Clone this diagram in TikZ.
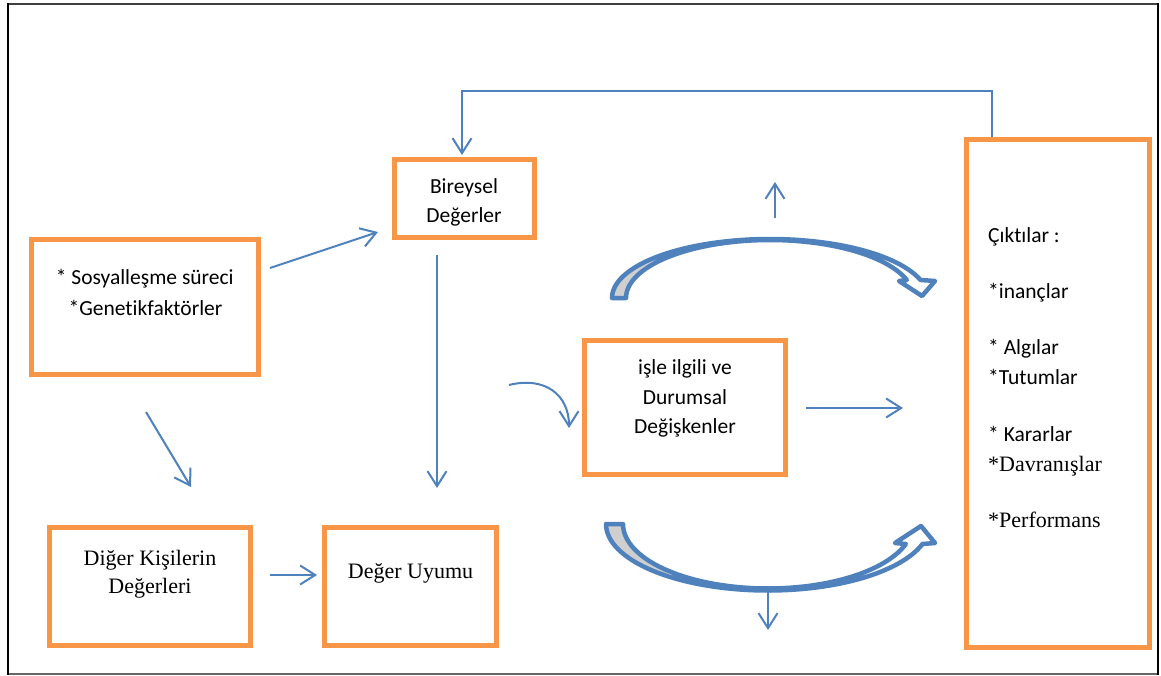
\documentclass[tikz,border=0pt]{standalone}
\usepackage{fontspec}
\setmainfont{Carlito}[Ligatures=NoCommon]
\newfontfamily\serifcam{Liberation Serif}
\usetikzlibrary{arrows.meta}
\definecolor{orng}{HTML}{F79646}
\definecolor{blu}{HTML}{4F81BD}
\definecolor{shd}{HTML}{CFCFCF}
\begin{document}
\begin{tikzpicture}[x=1pt,y=-1pt,
  box/.style={draw=orng, line width=5pt, rectangle, inner sep=0pt, fill=white},
  lab/.style={anchor=base, inner sep=0pt, font=\fontsize{21.5}{25}\selectfont},
  slab/.style={anchor=base, inner sep=0pt, font=\serifcam\fontsize{22}{25}\selectfont},
  conn/.style={draw=blu, line width=2pt, -{Straight Barb[length=15pt,width=19pt]}},
  blockarr/.style={draw=blu, line width=4.5pt, line join=round}]

\useasboundingbox (0,0) rectangle (1161,675);
\fill[white] (0,0) rectangle (1161,675);

% outer frame
\draw[black!75, line width=2pt] (7,3.7) -- (1159,3.7);
\draw[black!60, line width=2pt] (7,673.5) -- (1159,673.5);
\draw[black, line width=2.5pt] (8,3) -- (8,674.5);
\draw[black, line width=2.5pt] (1158,3) -- (1158,674.5);

% boxes
\node[box, minimum width=226.5pt, minimum height=135pt] (soc) at (144.75,307) {};
\node[box, minimum width=140pt, minimum height=78.5pt] (bir) at (464,198.25) {};
\node[box, minimum width=201.5pt, minimum height=134pt] (isl) at (684.75,407) {};
\node[box, minimum width=201pt, minimum height=118.5pt] (dig) at (150,586.25) {};
\node[box, minimum width=171.5pt, minimum height=118.5pt] (uyu) at (410.25,586.25) {};
\node[box, minimum width=182.5pt, minimum height=507.5pt] (cik) at (1057.75,393.25) {};

% texts
\node[lab] (socA) at (144.75,284) {* Sosyalleşme süreci};
\node[lab] (socB) at (145.5,315) {*Genetikfaktörler};
\node[lab] (birA) at (464,193) {Bireysel};
\node[lab] (birB) at (464,222) {Değerler};
\node[lab] (islA) at (685,374) {işle ilgili ve};
\node[lab] (islB) at (685,404) {Durumsal};
\node[lab] (islC) at (685,433) {Değişkenler};
\node[slab] (digA) at (150,565) {Diğer Kişilerin};
\node[slab] (digB) at (150,593.5) {Değerleri};
\node[slab] (uyuA) at (410.5,578.5) {Değer Uyumu};
\node[lab, anchor=base west] (cikA) at (988,242.5) {Çıktılar :};
\node[lab, anchor=base west] (cikB) at (988,298.5) {*inançlar};
\node[lab, anchor=base west] (cikC) at (988,354.5) {* Algılar};
\node[lab, anchor=base west] (cikD) at (988,384) {*Tutumlar};
\node[lab, anchor=base west] (cikE) at (988,441.5) {* Kararlar};
\node[slab, anchor=base west] (cikF) at (988,471.5) {*Davranışlar};
\node[slab, anchor=base west] (cikG) at (988,527.5) {*Performans};

% straight connectors
\coordinate (a1) at (270,268); \coordinate (a2) at (378,232);
\draw[conn] (a1) -- (a2);
\coordinate (b1) at (146,412); \coordinate (b2) at (191,487);
\draw[conn] (b1) -- (b2);
\coordinate (c1) at (437,255); \coordinate (c2) at (437,488);
\draw[conn] (c1) -- (c2);
\coordinate (d1) at (270,575); \coordinate (d2) at (317,575);
\draw[conn] (d1) -- (d2);
\coordinate (e1) at (806,408); \coordinate (e2) at (903,408);
\draw[conn] (e1) -- (e2);
\coordinate (k1) at (509,385); \coordinate (k2) at (569,428);
\draw[conn] (k1) .. controls (545,376) and (569,395) .. (k2);
\coordinate (f1) at (992,137); \coordinate (f2) at (992,91);
\coordinate (f3) at (462,91); \coordinate (f4) at (462,155);
\draw[conn] (f1) -- (f2) -- (f3) -- (f4);
\coordinate (u1) at (775,218); \coordinate (u2) at (775,182);
\draw[conn] (u1) -- (u2);
\coordinate (w1) at (768,592); \coordinate (w2) at (768,630);
\draw[conn] (w1) -- (w2);

% top curved block arrow
\def\toparrow{(612,298) -- plot[domain=180:17.8, samples=60] ({770+158*cos(\x)},{298-59*sin(\x)})
  -- (935,281) -- (922,296) -- (899,281) -- (906.9,280)
  -- plot[domain=18.1:180, samples=60] ({770+144*cos(\x)},{298-58*sin(\x)}) -- cycle}
\fill[white] \toparrow;
\begin{scope}
  \clip (600,200) rectangle (660,300);
  \fill[shd] \toparrow;
\end{scope}
\draw[blockarr] \toparrow;

% bottom curved block arrow
\def\botarrow{(606,524) -- plot[domain=180:17.5, samples=60] ({768+162*cos(\x)},{524+66.5*sin(\x)})
  -- (935,543) -- (921,526) -- (895,543) -- (905.8,544)
  -- plot[domain=18.1:180, samples=60] ({768+145*cos(\x)},{524+64.5*sin(\x)}) -- cycle}
\fill[white] \botarrow;
\begin{scope}
  \clip (595,520) rectangle (668,600);
  \fill[shd] \botarrow;
\end{scope}
\draw[blockarr] \botarrow;

\end{tikzpicture}
\end{document}
